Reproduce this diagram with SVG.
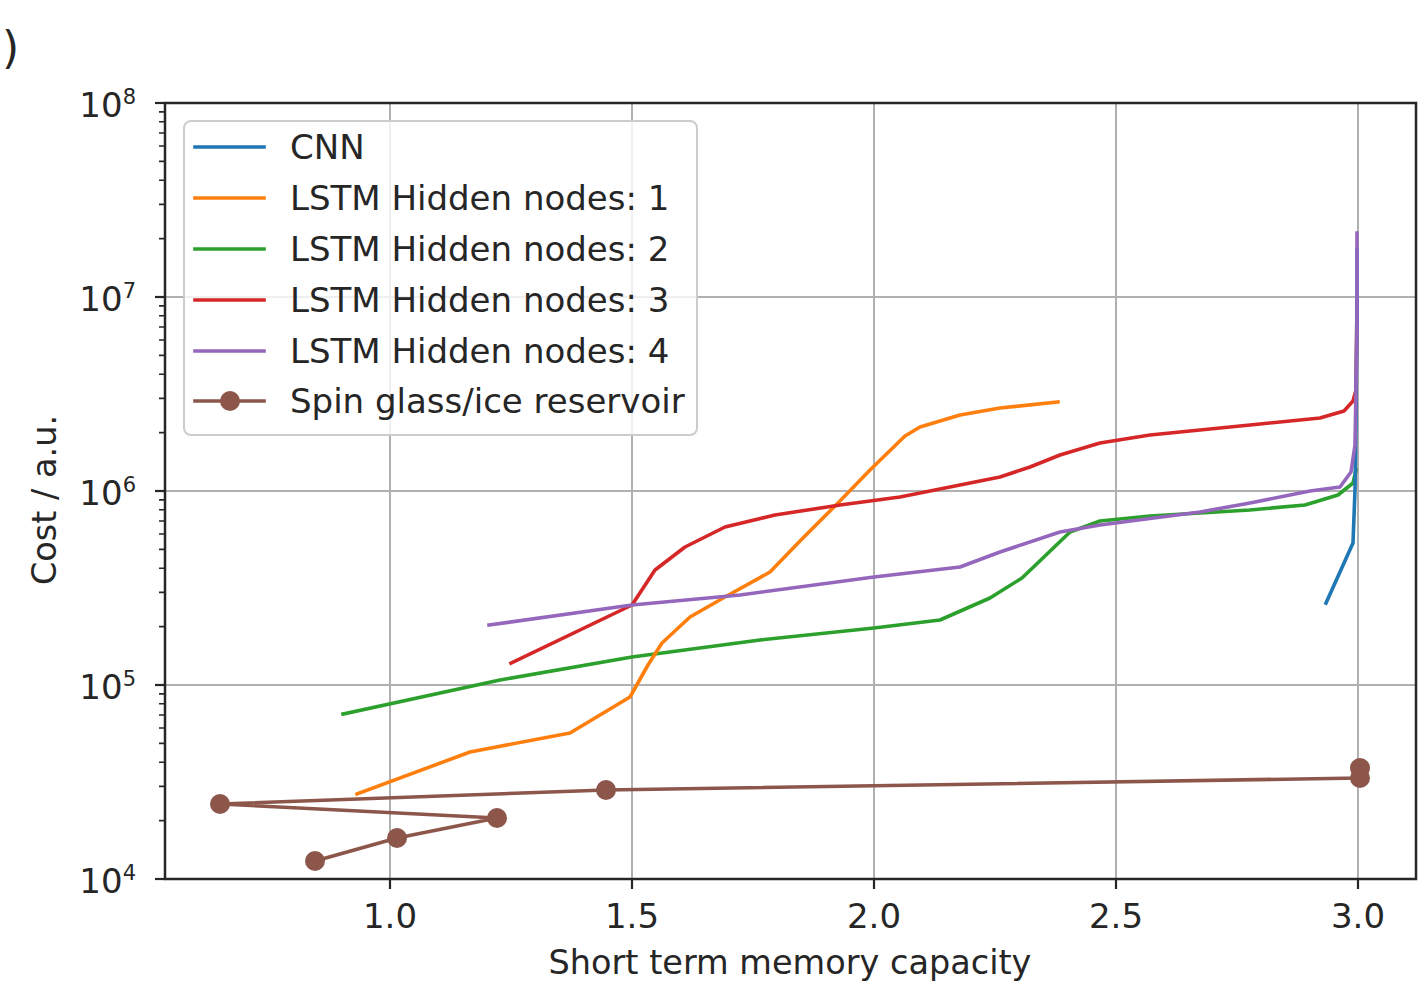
<svg xmlns="http://www.w3.org/2000/svg" width="1421" height="1000" viewBox="0 0 1421 1000">
  <style>
    text { font-family: "DejaVu Sans", "Liberation Sans", sans-serif; fill: #262626; }
    .tick { font-size: 34px; }
    .sup { font-size: 21px; }
    .lab { font-size: 33.5px; }
    .leg { font-size: 34px; }
    .grid line { stroke: #b0b0b0; stroke-width: 2; }
    .spine { fill: none; stroke: #262626; stroke-width: 2.5; }
    .tk line { stroke: #262626; stroke-width: 2.2; }
    .series { fill: none; stroke-width: 3.6; stroke-linejoin: round; stroke-linecap: square; }
    .cnn { stroke: #1f77b4; }
    .l1 { stroke: #ff7f0e; }
    .l2 { stroke: #2ca02c; }
    .l3 { stroke: #d62728; }
    .l4 { stroke: #9467bd; }
    .spin { stroke: #8c564b; }
    .dot { fill: #8c564b; }
  </style>
  <rect width="1421" height="1000" fill="#ffffff"/>

  <!-- panel letter, partly outside the left edge -->
  <text x="-25" y="63" font-size="44">a)</text>

  <!-- grid -->
  <g class="grid" id="grid">
    <line x1="390" y1="103" x2="390" y2="879"/>
    <line x1="632" y1="103" x2="632" y2="879"/>
    <line x1="874" y1="103" x2="874" y2="879"/>
    <line x1="1116" y1="103" x2="1116" y2="879"/>
    <line x1="1358" y1="103" x2="1358" y2="879"/>
    <line x1="165" y1="297" x2="1416" y2="297"/>
    <line x1="165" y1="491" x2="1416" y2="491"/>
    <line x1="165" y1="685" x2="1416" y2="685"/>
  </g>

  <!-- data series -->
  <g id="connectors">
    <polyline id="lstm2" class="series l2" points="343,714 500,680 632,657 760,640 874,628 940,620 990,598 1022,578 1045,556 1070,532 1100,521 1150,516 1200,513 1250,510 1305,505 1338,495 1353,483 1356,470"/>
    <polyline id="lstm1" class="series l1" points="357,794 470,752 570,733 630,697 648,665 662,643 690,617 725,597 770,572 800,541 838,503 870,470 905,436 920,427 960,415 1000,408 1058,402"/>
    <polyline id="lstm3" class="series l3" points="511,663 632,605 655,570 685,547 725,527 775,515 840,505 900,497 960,485 1000,477 1030,467 1060,455 1100,443 1150,435 1200,430 1260,424 1320,418 1344,411 1353,401 1356,390 1357,300"/>
    <polyline id="cnn" class="series cnn" points="1326,603 1353,543 1355,490 1356,420 1357,300 1357,250"/>
    <polyline id="lstm4" class="series l4" points="489,625 632,605 740,595 874,577 960,567 1000,552 1060,532 1100,525 1200,512 1250,503 1310,491 1340,487 1351,472 1355,445 1357,330 1357,233"/>
    <g id="spin">
      <polyline class="series spin" points="315,861 397,838 497,818 220,804 606,790 1360,778 1360,768"/>
      <circle class="dot" cx="315" cy="861" r="10"/>
      <circle class="dot" cx="397" cy="838" r="10"/>
      <circle class="dot" cx="497" cy="818" r="10"/>
      <circle class="dot" cx="220" cy="804" r="10"/>
      <circle class="dot" cx="606" cy="790" r="10"/>
      <circle class="dot" cx="1360" cy="778" r="10"/>
      <circle class="dot" cx="1360" cy="768" r="10"/>
    </g>
  </g>

  <!-- axes frame -->
  <rect class="spine" x="165" y="103" width="1251" height="776"/>

  <!-- ticks -->
  <g class="tk" id="xticks">
    <line x1="390" y1="879" x2="390" y2="889"/>
    <line x1="632" y1="879" x2="632" y2="889"/>
    <line x1="874" y1="879" x2="874" y2="889"/>
    <line x1="1116" y1="879" x2="1116" y2="889"/>
    <line x1="1358" y1="879" x2="1358" y2="889"/>
  </g>
  <g class="tk" id="yticks">
    <line x1="155" y1="103" x2="165" y2="103"/>
    <line x1="155" y1="297" x2="165" y2="297"/>
    <line x1="155" y1="491" x2="165" y2="491"/>
    <line x1="155" y1="685" x2="165" y2="685"/>
    <line x1="155" y1="879" x2="165" y2="879"/>
  </g>
  <!-- minor log ticks, one decade repeated -->
  <g id="yminor">
    <path id="mdec" d="M159,-58.4h6 M159,-92.6h6 M159,-116.8h6 M159,-135.6h6 M159,-151h6 M159,-164h6 M159,-175.2h6 M159,-185.1h6" stroke="#262626" stroke-width="1.6" transform="translate(0,879)"/>
    <use href="#mdec" transform="translate(0,-194)"/>
    <use href="#mdec" transform="translate(0,-388)"/>
    <use href="#mdec" transform="translate(0,-582)"/>
  </g>

  <!-- tick labels -->
  <g id="xticklabels" text-anchor="middle">
    <text class="tick" x="390" y="928">1.0</text>
    <text class="tick" x="632" y="928">1.5</text>
    <text class="tick" x="874" y="928">2.0</text>
    <text class="tick" x="1116" y="928">2.5</text>
    <text class="tick" x="1358" y="928">3.0</text>
  </g>
  <g id="yticklabels" text-anchor="end">
    <text class="tick" x="136" y="117">10<tspan class="sup" dy="-13">8</tspan></text>
    <text class="tick" x="136" y="311">10<tspan class="sup" dy="-13">7</tspan></text>
    <text class="tick" x="136" y="505">10<tspan class="sup" dy="-13">6</tspan></text>
    <text class="tick" x="136" y="699">10<tspan class="sup" dy="-13">5</tspan></text>
    <text class="tick" x="136" y="893">10<tspan class="sup" dy="-13">4</tspan></text>
  </g>

  <!-- axis labels -->
  <text class="lab" x="790" y="974" text-anchor="middle">Short term memory capacity</text>
  <text class="lab" transform="translate(56,500) rotate(-90)" text-anchor="middle">Cost / a.u.</text>

  <!-- legend -->
  <g id="legend">
    <rect x="184" y="121" width="513" height="314" rx="7" fill="#ffffff" fill-opacity="0.8" stroke="#cccccc" stroke-width="2"/>
    <g id="leg-cnn">
      <line class="series cnn" x1="195" y1="147" x2="264" y2="147"/>
      <text class="leg" x="290" y="159">CNN</text>
    </g>
    <g id="leg-l1">
      <line class="series l1" x1="195" y1="198" x2="264" y2="198"/>
      <text class="leg" x="290" y="210">LSTM Hidden nodes: 1</text>
    </g>
    <g id="leg-l2">
      <line class="series l2" x1="195" y1="249" x2="264" y2="249"/>
      <text class="leg" x="290" y="261">LSTM Hidden nodes: 2</text>
    </g>
    <g id="leg-l3">
      <line class="series l3" x1="195" y1="300" x2="264" y2="300"/>
      <text class="leg" x="290" y="312">LSTM Hidden nodes: 3</text>
    </g>
    <g id="leg-l4">
      <line class="series l4" x1="195" y1="351" x2="264" y2="351"/>
      <text class="leg" x="290" y="363">LSTM Hidden nodes: 4</text>
    </g>
    <g id="leg-spin">
      <line class="series spin" x1="195" y1="401" x2="264" y2="401"/>
      <circle class="dot" cx="230" cy="401" r="10"/>
      <text class="leg" x="290" y="413">Spin glass/ice reservoir</text>
    </g>
  </g>
</svg>
